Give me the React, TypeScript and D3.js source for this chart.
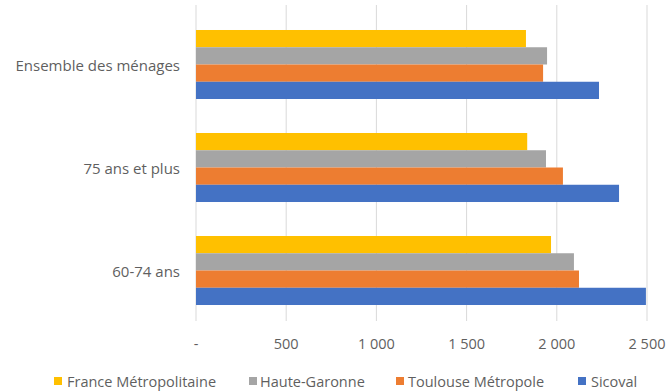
import React from "react";
import * as d3 from "d3";

const categories = ["Ensemble des ménages", "75 ans et plus", "60-74 ans"];
const seriesNames = ["France Métropolitaine", "Haute-Garonne", "Toulouse Métropole", "Sicoval"];
const franceMetropolitaine = [1829, 1836, 1968];
const hauteGaronne = [1946, 1940, 2095];
const toulouseMetropole = [1924, 2034, 2123];
const sicoval = [2234, 2345, 2494];
const xTicks = [0, 500, 1000, 1500, 2000, 2500];

const seriesValues = [franceMetropolitaine, hauteGaronne, toulouseMetropole, sicoval];
const colors = ["#FFC000", "#A5A5A5", "#ED7D31", "#4472C4"];

const W = 669;
const H = 392;
const FONT = "'Open Sans', sans-serif";
const TEXT = "#5f5f5f";

export default function App() {
  const x = d3.scaleLinear().domain([0, 2500]).range([196, 647]);
  const y = d3
    .scaleBand<string>()
    .domain(categories)
    .range([13, 322])
    .paddingInner(0.33)
    .paddingOuter(0.165);
  const inner = d3
    .scaleBand<string>()
    .domain(seriesNames)
    .range([0, y.bandwidth()]);

  const fmt = (v: number) => (v === 0 ? "-" : d3.format(",")(v).replace(/,/g, "\u00a0"));

  const legendSq = [54, 249, 396, 578];
  const legendTx = [67, 260, 408, 591];

  return (
    <svg
      width={W}
      height={H}
      style={{ position: "absolute", left: 0, top: 0, background: "#fff" }}
      fontFamily={FONT}
    >
      {xTicks.map((t) => (
        <line key={"g" + t} x1={x(t)} x2={x(t)} y1={5} y2={321} stroke="#D9D9D9" strokeWidth={1} />
      ))}
      {categories.map((c, ci) => (
        <g key={c}>
          {seriesNames.map((s, si) => (
            <rect
              key={s}
              x={x(0)}
              y={(y(c) as number) + (inner(s) as number)}
              width={x(seriesValues[si][ci]) - x(0)}
              height={inner.bandwidth()}
              fill={colors[si]}
            />
          ))}
          <text
            x={180}
            y={(y(c) as number) + y.bandwidth() / 2}
            textAnchor="end"
            dominantBaseline="central"
            fontSize={15}
            fill={TEXT}
          >
            {c}
          </text>
        </g>
      ))}
      {xTicks.map((t) => (
        <text key={"t" + t} x={x(t)} y={343} textAnchor="middle" dominantBaseline="central" fontSize={14.5} fill={TEXT}>
          {fmt(t)}
        </text>
      ))}
      {seriesNames.map((s, i) => (
        <g key={"l" + s}>
          <rect x={legendSq[i]} y={377} width={8} height={8} fill={colors[i]} />
          <text x={legendTx[i]} y={381} dominantBaseline="central" fontSize={14.5} fill={TEXT}>
            {s}
          </text>
        </g>
      ))}
    </svg>
  );
}
